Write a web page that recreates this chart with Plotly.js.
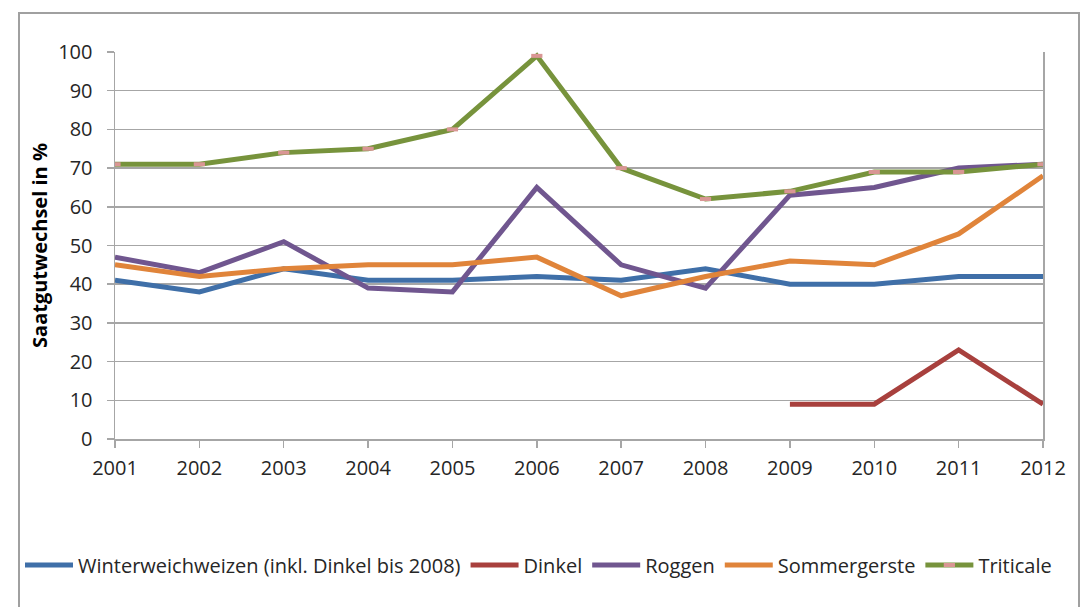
<!DOCTYPE html>
<html>
<head>
<meta charset="utf-8">
<script src="https://cdn.plot.ly/plotly-3.0.1.min.js"></script>
<style>
  html, body { margin: 0; padding: 0; background: #ffffff; }
  #chart { width: 1081px; height: 607px; }
</style>
</head>
<body>
<div id="chart"></div>
<script>
// Saatgutwechsel je Kulturart, 2001–2012
const years = [2001, 2002, 2003, 2004, 2005, 2006, 2007, 2008, 2009, 2010, 2011, 2012];
const winterweichweizen = [41, 38, 44, 41, 41, 42, 41, 44, 40, 40, 42, 42];
const dinkel = [null, null, null, null, null, null, null, null, 9, 9, 23, 9];
const roggen = [47, 43, 51, 39, 38, 65, 45, 39, 63, 65, 70, 71];
const sommergerste = [45, 42, 44, 45, 45, 47, 37, 42, 46, 45, 53, 68];
const triticale = [71, 71, 74, 75, 80, 99, 70, 62, 64, 69, 69, 71];
const yTicks = [0, 10, 20, 30, 40, 50, 60, 70, 80, 90, 100];

const FONT = 'Open Sans, Liberation Sans, sans-serif';
const GRID = '#a6a6a6';
const TEXT = '#262626';

function lineTrace(name, values, color) {
  return {
    type: 'scatter',
    mode: 'lines',
    name: name,
    x: years,
    y: values,
    connectgaps: false,
    line: { color: color, width: 5 },
    hoverinfo: 'skip'
  };
}

const traces = [
  lineTrace('Winterweichweizen (inkl. Dinkel bis 2008)', winterweichweizen, '#3f6fa8'),
  lineTrace('Dinkel', dinkel, '#a8403d'),
  lineTrace('Roggen', roggen, '#70568f'),
  lineTrace('Sommergerste', sommergerste, '#e0843a'),
  {
    type: 'scatter',
    mode: 'lines+markers',
    name: 'Triticale',
    x: years,
    y: triticale,
    line: { color: '#77933c', width: 5 },
    marker: { symbol: 'line-ew', size: 8, line: { color: '#d99694', width: 4 } },
    hoverinfo: 'skip'
  }
];

// plot area: x 115..1043, y 52..439
const L = 115, R = 1043, T = 52, B = 439, W = 1081, H = 607;
const pw = R - L, ph = B - T;
const px = v => (v - L) / pw;
const py = v => (B - v) / ph;

const layout = {
  width: W,
  height: H,
  margin: { l: L, r: W - R, t: T, b: H - B, pad: 0 },
  paper_bgcolor: '#ffffff',
  plot_bgcolor: '#ffffff',
  showlegend: true,
  hovermode: false,
  font: { family: FONT, color: TEXT, size: 20 },
  xaxis: {
    type: 'linear',
    range: [years[0], years[years.length - 1]],
    tickmode: 'array',
    tickvals: years,
    ticktext: years.map(String),
    showgrid: false,
    zeroline: false,
    showline: true,
    linecolor: GRID,
    linewidth: 1.5,
    ticks: 'outside',
    ticklen: 7,
    tickwidth: 1.5,
    tickcolor: GRID,
    ticklabelstandoff: 3,
    tickfont: { family: FONT, size: 20, color: TEXT },
    fixedrange: true
  },
  yaxis: {
    range: [0, 100],
    tickmode: 'array',
    tickvals: yTicks,
    ticktext: yTicks.map(String),
    showgrid: true,
    gridcolor: GRID,
    gridwidth: 1.5,
    zeroline: false,
    showline: true,
    mirror: true,
    linecolor: GRID,
    linewidth: 1.5,
    ticks: 'outside',
    ticklen: 7,
    tickwidth: 1.5,
    tickcolor: GRID,
    ticklabelstandoff: 10,
    tickfont: { family: FONT, size: 20, color: TEXT },
    title: {
      text: '<b>Saatgutwechsel in %</b>',
      font: { family: FONT, size: 20, color: '#000000' },
      standoff: 5
    },
    fixedrange: true
  },
  legend: {
    orientation: 'h',
    x: px(20),
    xanchor: 'left',
    y: py(565),
    yanchor: 'middle',
    font: { family: FONT, size: 20, color: TEXT },
    itemwidth: 48,
    tracegroupgap: 0,
    bgcolor: 'rgba(0,0,0,0)'
  },
  shapes: [
    {
      type: 'rect',
      xref: 'paper', yref: 'paper',
      x0: px(19), x1: px(1079),
      y0: py(625), y1: py(13),
      line: { color: '#a0a0a0', width: 2 },
      fillcolor: 'rgba(0,0,0,0)',
      layer: 'below'
    }
  ]
};

Plotly.newPlot('chart', traces, layout, { displayModeBar: false, staticPlot: true });
</script>
</body>
</html>
